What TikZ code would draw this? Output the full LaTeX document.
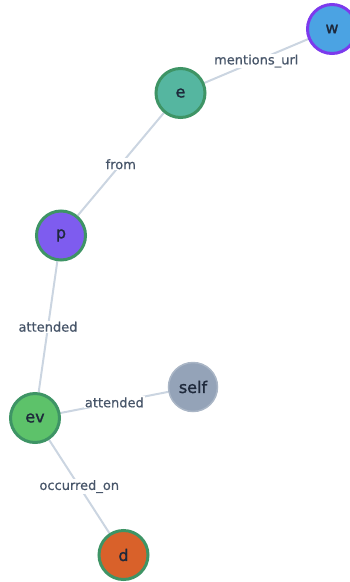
\documentclass[tikz,border=0pt]{standalone}
\usepackage{fontspec}
\setmainfont{DejaVu Sans}
\newfontfamily\nodefont[FakeBold=1.2]{DejaVu Sans}
\newfontfamily\labelfont[FakeBold=0.5]{DejaVu Sans}
\usepackage{xcolor}
\usetikzlibrary{backgrounds}

\definecolor{edgegray}{HTML}{CBD5E1}
\definecolor{labelgray}{HTML}{475569}
\definecolor{nodetext}{HTML}{1E293B}
\definecolor{ringgreen}{HTML}{3E9465}
\definecolor{ringpurple}{HTML}{7C3AED}
\definecolor{ringgray}{HTML}{AAB6C6}
\definecolor{wblue}{HTML}{4BA3E3}
\definecolor{eteal}{HTML}{55B6A0}
\definecolor{ppurple}{HTML}{7E5CEF}
\definecolor{evgreen}{HTML}{5DC26A}
\definecolor{selfgray}{HTML}{94A3B8}
\definecolor{dorange}{HTML}{D9612A}

\tikzset{
  vertex/.style={circle, minimum size=49pt, inner sep=0pt, line width=3pt,
    text=nodetext, font=\nodefont\fontsize{16}{18}\selectfont},
  rel/.style={draw=edgegray, line width=2pt},
  lbl/.style={fill=white, text=labelgray, inner sep=1pt,
    font=\labelfont\fontsize{13}{15}\selectfont}
}

\begin{document}
\begin{tikzpicture}[x=1pt,y=-1pt]
\useasboundingbox (0,0) rectangle (350,582);

% entities
\node [vertex, fill=wblue, draw=ringpurple] (w) at (332,29) {w};
\node [vertex, fill=eteal, draw=ringgreen] (e) at (180.5,93) {e};
\node [vertex, fill=ppurple, draw=ringgreen] (p) at (61,235.5) {p};
\node [vertex, fill=evgreen, draw=ringgreen] (ev) at (35,418) {ev};
\node [vertex, fill=selfgray, draw=ringgray, line width=1.5pt] (self) at (193,387) {self};
\node [vertex, fill=dorange, draw=ringgreen] (d) at (123.5,555) {d};

% relations
\begin{scope}[on background layer]
\draw [rel] (e) -- (w) node [lbl, midway] {mentions\_url};
\draw [rel] (e) -- (p) node [lbl, midway] {from};
\draw [rel] (p) -- (ev) node [lbl, midway] {attended};
\draw [rel] (ev) -- (self) node [lbl, midway] {attended};
\draw [rel] (ev) -- (d) node [lbl, midway] {occurred\_on};
\end{scope}

\end{tikzpicture}
\end{document}
